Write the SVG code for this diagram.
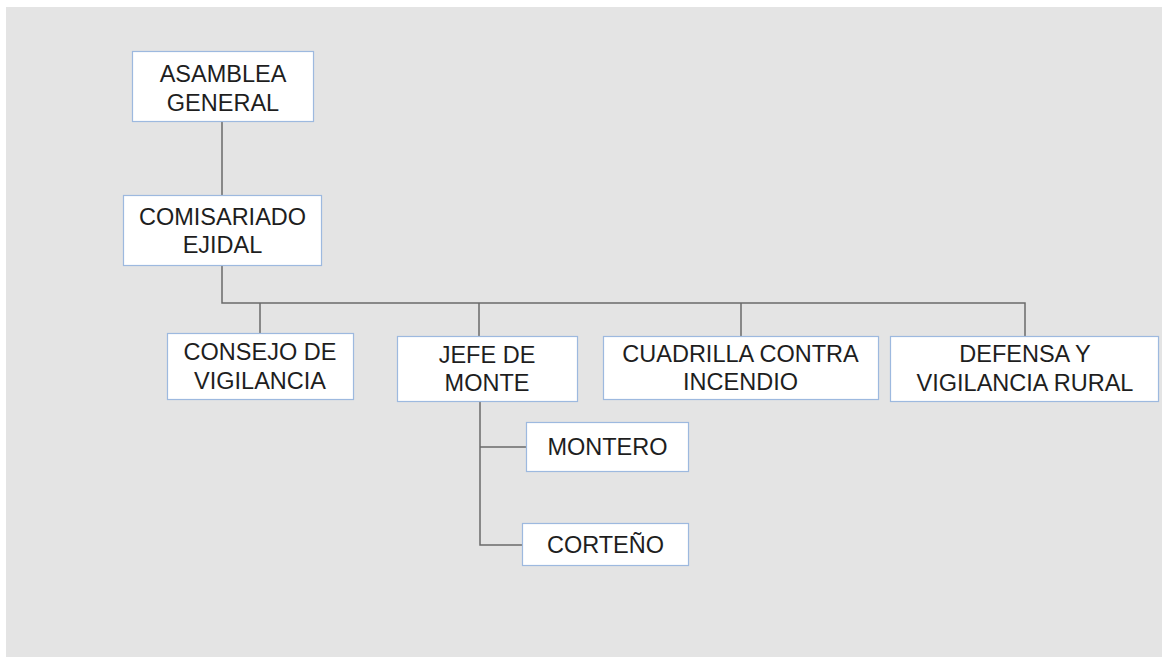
<svg xmlns="http://www.w3.org/2000/svg" width="1162" height="657" viewBox="0 0 1162 657">
<style>
.box{fill:#ffffff;stroke:#9db9df;stroke-width:1.2}
.t{font-family:"Liberation Sans",Arial,sans-serif;font-size:23.5px;fill:#1e1e1e;text-anchor:middle}
.c{fill:none;stroke:#6a6a6a;stroke-width:1.5}
</style>
<rect x="0" y="0" width="1162" height="657" fill="#ffffff"/>
<rect x="6" y="7" width="1156" height="650" fill="#e4e4e4"/>
<g id="connectors">
<path class="c" d="M222 121V195"/>
<path class="c" d="M222 265V303H1025V336"/>
<path class="c" d="M260 303V333"/>
<path class="c" d="M479 303V336"/>
<path class="c" d="M741 303V336"/>
<path class="c" d="M480 401V545H522"/>
<path class="c" d="M480 447H526"/>
</g>
<g id="asamblea">
<rect class="box" x="132.5" y="51.5" width="181" height="70"/>
<text class="t" x="223" y="82">ASAMBLEA</text>
<text class="t" x="223" y="111">GENERAL</text>
</g>
<g id="comisariado">
<rect class="box" x="123.5" y="195.5" width="198" height="70"/>
<text class="t" x="222.5" y="225">COMISARIADO</text>
<text class="t" x="222.5" y="253">EJIDAL</text>
</g>
<g id="consejo">
<rect class="box" x="167.5" y="333.5" width="186" height="66"/>
<text class="t" x="260" y="360">CONSEJO DE</text>
<text class="t" x="260" y="389">VIGILANCIA</text>
</g>
<g id="jefe">
<rect class="box" x="397.5" y="336.5" width="180" height="65"/>
<text class="t" x="487" y="363">JEFE DE</text>
<text class="t" x="487" y="391">MONTE</text>
</g>
<g id="cuadrilla">
<rect class="box" x="603.5" y="336.5" width="275" height="63"/>
<text class="t" x="740.5" y="362">CUADRILLA CONTRA</text>
<text class="t" x="740.5" y="390">INCENDIO</text>
</g>
<g id="defensa">
<rect class="box" x="890.5" y="336.5" width="268" height="65"/>
<text class="t" x="1025" y="362">DEFENSA Y</text>
<text class="t" x="1025" y="391">VIGILANCIA RURAL</text>
</g>
<g id="montero">
<rect class="box" x="526.5" y="422.5" width="162" height="49"/>
<text class="t" x="607.5" y="455">MONTERO</text>
</g>
<g id="corteno">
<rect class="box" x="522.5" y="523.5" width="166" height="42"/>
<text class="t" x="605.5" y="553">CORTEÑO</text>
</g>
</svg>
